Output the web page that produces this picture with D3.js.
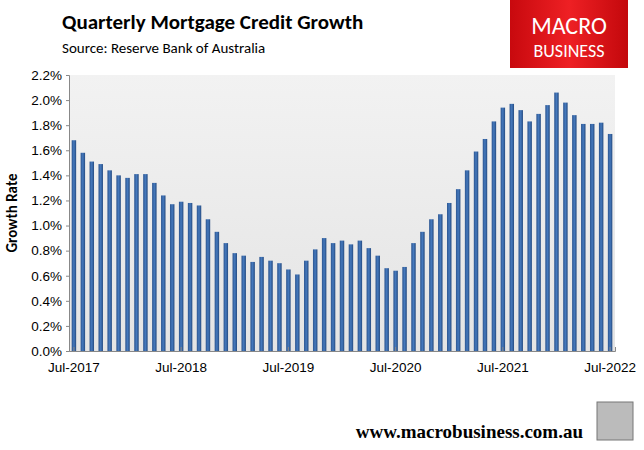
<!DOCTYPE html>
<html><head><meta charset="utf-8">
<script src="https://cdn.jsdelivr.net/npm/d3@7"></script>
<style>body{margin:0;background:#fff}svg{font-family:Calibri,"Liberation Sans",Arial,sans-serif}</style>
</head><body>
<script>
// monthly quarterly growth, Jul-2017 .. Jul-2022 (%)
var values = [1.68,1.58,1.51,1.49,1.44,1.40,1.38,1.41,1.41,1.34,1.24,1.17,1.19,1.18,1.16,1.05,0.95,0.86,0.78,0.76,0.71,0.75,0.72,0.70,0.65,0.61,0.72,0.81,0.90,0.86,0.88,
  0.85,0.88,0.82,0.76,0.66,0.64,0.67,0.86,0.95,1.05,1.09,1.18,1.29,1.44,1.59,1.69,1.83,1.94,1.97,1.92,1.83,1.89,1.96,2.06,1.98,1.88,1.81,1.81,1.82,1.73];
var tickLabels = ["Jul-2017","Jul-2018","Jul-2019","Jul-2020","Jul-2021","Jul-2022"];
var yTicks = [0,0.2,0.4,0.6,0.8,1.0,1.2,1.4,1.6,1.8,2.0,2.2];

var W = 644, H = 450;
var svg = d3.select("body").append("svg").attr("width", W).attr("height", H);
var m = {l: 69, r: 615, t: 75, b: 351};

var x = d3.scaleBand().domain(d3.range(values.length)).range([m.l, m.r]).paddingInner(0.5).paddingOuter(0.3);
var y = d3.scaleLinear().domain([0, 2.2]).range([m.b, m.t]);

var defs = svg.append("defs");
var bg = defs.append("linearGradient").attr("id", "bg").attr("x1", 0).attr("y1", 0).attr("x2", 0).attr("y2", 1);
bg.append("stop").attr("offset", 0).attr("stop-color", "#f2f2f2");
bg.append("stop").attr("offset", 1).attr("stop-color", "#e4e4e4");
var bar = defs.append("linearGradient").attr("id", "bar");
bar.append("stop").attr("offset", 0).attr("stop-color", "#2c5590");
bar.append("stop").attr("offset", 0.5).attr("stop-color", "#4579bd");
bar.append("stop").attr("offset", 1).attr("stop-color", "#244a80");
var red = defs.append("linearGradient").attr("id", "red");
red.append("stop").attr("offset", 0).attr("stop-color", "#c8090e");
red.append("stop").attr("offset", 0.5).attr("stop-color", "#ee2024");
red.append("stop").attr("offset", 1).attr("stop-color", "#c3080c");

svg.append("rect").attr("x", m.l).attr("y", m.t).attr("width", m.r - m.l).attr("height", m.b - m.t).attr("fill", "url(#bg)");

svg.selectAll(".bar").data(values).enter().append("rect")
  .attr("x", (d, i) => x(i)).attr("y", d => y(d))
  .attr("width", x.bandwidth()).attr("height", d => y(0) - y(d))
  .attr("fill", "url(#bar)");

var ya = svg.append("g").attr("transform", "translate(" + m.l + ",0)")
  .call(d3.axisLeft(y).tickValues(yTicks).tickFormat(d => d.toFixed(1) + "%").tickSize(3).tickPadding(4));
ya.select(".domain").attr("stroke", "#888");
ya.selectAll("line").attr("stroke", "#888");
ya.selectAll("text").attr("font-size", 13.5).attr("fill", "#000");

var xa = svg.append("g").attr("transform", "translate(0," + m.b + ")")
  .call(d3.axisBottom(x).tickValues(d3.range(0, values.length, 12))
    .tickFormat(i => tickLabels[i / 12]).tickSize(-4).tickPadding(11));
xa.select(".domain").attr("stroke", "#888");
xa.selectAll("line").attr("stroke", "#888");
xa.selectAll("text").attr("font-size", 13.5).attr("fill", "#000");

svg.append("text").attr("transform", "translate(17,213) rotate(-90)").attr("text-anchor", "middle")
  .attr("font-weight", "bold").attr("font-size", 15).text("Growth Rate");

svg.append("text").attr("x", 62).attr("y", 29).attr("font-weight", "bold").attr("font-size", 21).text("Quarterly Mortgage Credit Growth");
svg.append("text").attr("x", 62).attr("y", 53).attr("font-size", 15).text("Source: Reserve Bank of Australia");

svg.append("rect").attr("x", 510).attr("y", 0).attr("width", 118).attr("height", 68).attr("fill", "url(#red)");
svg.append("text").attr("x", 569).attr("y", 34).attr("text-anchor", "middle").attr("fill", "#fff").attr("font-size", 24).text("MACRO");
svg.append("text").attr("x", 569).attr("y", 57).attr("text-anchor", "middle").attr("fill", "#fff").attr("font-size", 18).text("BUSINESS");

svg.append("text").attr("x", 583).attr("y", 438).attr("text-anchor", "end").attr("font-weight", "bold").attr("font-size", 19)
  .attr("font-family", "'Liberation Serif',serif").text("www.macrobusiness.com.au");
svg.append("rect").attr("x", 597).attr("y", 402).attr("width", 36).attr("height", 38).attr("fill", "#bbb").attr("stroke", "#777");
</script>
</body></html>
